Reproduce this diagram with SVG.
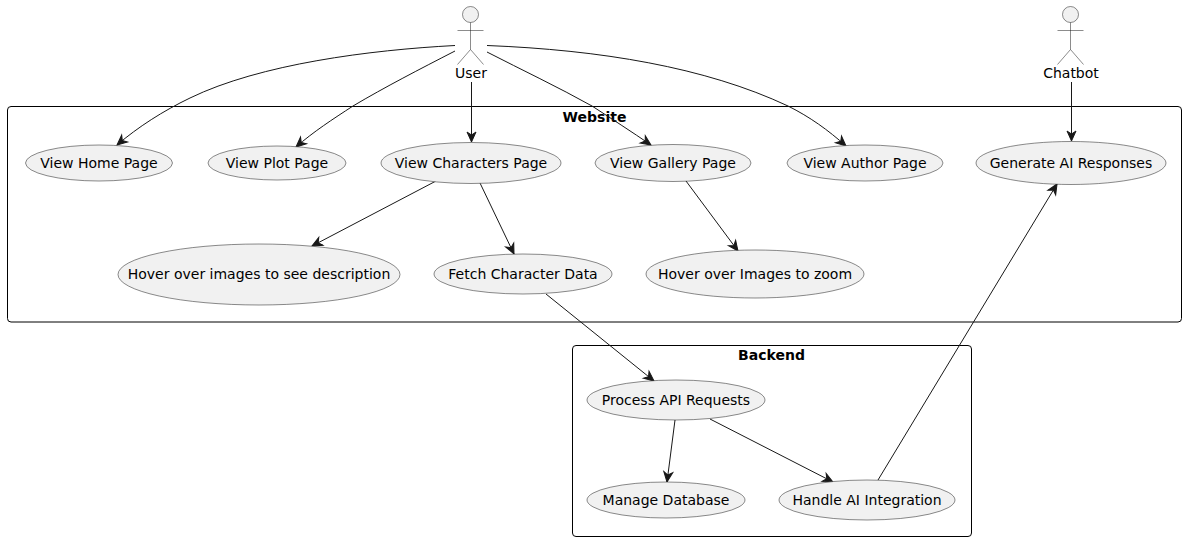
<svg xmlns="http://www.w3.org/2000/svg" width="1186" height="541" viewBox="0 0 1186 541">
<style>
text{font-family:"DejaVu Sans",sans-serif;font-size:14px;fill:#000;text-anchor:middle}
.t{font-weight:bold}
.box{fill:none;stroke:#000;stroke-width:1}
.uc ellipse{fill:#F1F1F1;stroke:#181818;stroke-width:.5}
.actor circle{fill:#F1F1F1;stroke:#181818;stroke-width:.5}
.actor path{fill:none;stroke:#181818;stroke-width:.5}
#connectors path{fill:none;stroke:#181818;stroke-width:1;marker-end:url(#a)}
</style>
<defs>
<marker id="a" markerUnits="userSpaceOnUse" markerWidth="14" markerHeight="12" refX="13" refY="6" orient="auto" overflow="visible"><path d="M13 6L3 1.500L6 6L3 10.500Z" fill="#181818" stroke="#181818" stroke-width="1" style="marker-end:none"/></marker>
</defs>
<g id="website"><rect class="box" x="7.500" y="106.500" width="1174" height="215.500" rx="3.500"/><text class="t" x="594.500" y="122">Website</text></g>
<g id="backend"><rect class="box" x="572.500" y="345.500" width="399" height="191" rx="3.500"/><text class="t" x="771.500" y="360">Backend</text></g>
<g id="connectors">
<path d="M455 45.500C370 50 260 64 190 98C163 111 138 127 117 145"/>
<path d="M455 51C420 69 385 87 353 106C333 119 313 132 296 147"/>
<path d="M471.500 82V142"/>
<path d="M487 52C522 70 558 87 592 106C612 119 632 132 651 145"/>
<path d="M487 45.500C600 50 705 67 788 106C810 117 828 130 846 146"/>
<path d="M1071.500 82V141"/>
<path d="M436 181L312 246"/>
<path d="M480 183L514 254"/>
<path d="M686 181L738 251"/>
<path d="M546 294L654 381"/>
<path d="M675 420L667 482"/>
<path d="M710 419L833 482"/>
<path d="M878 480L1057 184"/>
</g>
<g id="actor-user" class="actor"><circle cx="470.500" cy="14.500" r="8"/><path d="M470.500 22.500V49.500M457.500 30.500H483.500M470.500 49.500L457.500 64.500M470.500 49.500L483.500 64.500"/><text x="471" y="78">User</text></g>
<g id="actor-chatbot" class="actor"><circle cx="1070.500" cy="14.500" r="8"/><path d="M1070.500 22.500V49.500M1057.500 30.500H1083.500M1070.500 49.500L1057.500 64.500M1070.500 49.500L1083.500 64.500"/><text x="1071" y="78">Chatbot</text></g>
<g id="uc-home" class="uc"><ellipse cx="99" cy="163" rx="73.500" ry="18"/><text x="99" y="168">View Home Page</text></g>
<g id="uc-plot" class="uc"><ellipse cx="277" cy="163" rx="69" ry="17"/><text x="277" y="168">View Plot Page</text></g>
<g id="uc-characters" class="uc"><ellipse cx="471" cy="163" rx="90" ry="20.500"/><text x="471" y="168">View Characters Page</text></g>
<g id="uc-gallery" class="uc"><ellipse cx="673" cy="163" rx="78" ry="18.500"/><text x="673" y="168">View Gallery Page</text></g>
<g id="uc-author" class="uc"><ellipse cx="865" cy="163" rx="78" ry="18"/><text x="865" y="168">View Author Page</text></g>
<g id="uc-generate" class="uc"><ellipse cx="1071" cy="163" rx="95" ry="21.500"/><text x="1071" y="168">Generate AI Responses</text></g>
<g id="uc-hover-desc" class="uc"><ellipse cx="259" cy="274.500" rx="141" ry="30.500"/><text x="259" y="279">Hover over images to see description</text></g>
<g id="uc-fetch" class="uc"><ellipse cx="523" cy="274" rx="89" ry="20"/><text x="523" y="279">Fetch Character Data</text></g>
<g id="uc-zoom" class="uc"><ellipse cx="755" cy="274" rx="109" ry="24"/><text x="755" y="279">Hover over Images to zoom</text></g>
<g id="uc-process" class="uc"><ellipse cx="676" cy="400" rx="89" ry="20"/><text x="676" y="405">Process API Requests</text></g>
<g id="uc-database" class="uc"><ellipse cx="666" cy="500" rx="79" ry="18"/><text x="666" y="505">Manage Database</text></g>
<g id="uc-ai" class="uc"><ellipse cx="867" cy="500" rx="88" ry="20"/><text x="867" y="505">Handle AI Integration</text></g>
</svg>
